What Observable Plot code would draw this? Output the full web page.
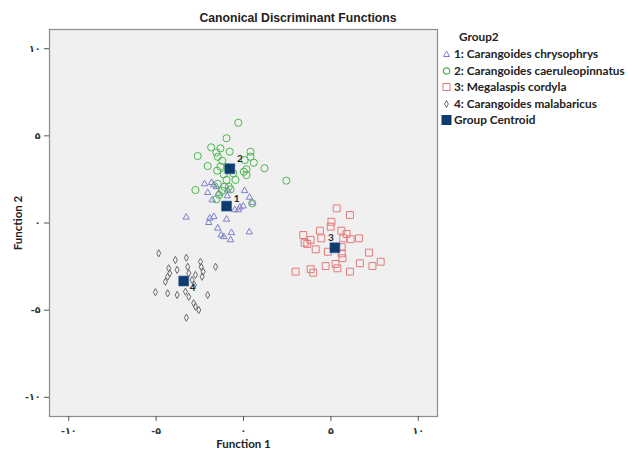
<!DOCTYPE html>
<html>
<head>
<meta charset="utf-8">
<script src="https://cdn.jsdelivr.net/npm/d3@7"></script>
<script src="https://cdn.jsdelivr.net/npm/@observablehq/plot@0.6"></script>
<style>
  body { margin: 0; background: #fff; }
  #wrap { position: relative; width: 628px; height: 450px; }
  #title { position: absolute; left: 0; width: 596px; top: 11px; text-align: center;
    font: bold 12.2px "Liberation Sans", Arial, sans-serif; color: #222; }
  #chart { position: absolute; left: 0; top: 0; }
  #legend { position: absolute; left: 440px; top: 28px; font: bold 11.8px Lato, sans-serif; color: #222; }
  #legend .head { padding-left: 19px; height: 18px; line-height: 18px; }
  #legend .row { height: 16.5px; line-height: 16.5px; display: flex; align-items: center; white-space: nowrap; }
  #legend svg { width: 13px; height: 12px; margin-right: 1px; flex: none; }
  g[aria-label="x-axis tick label"], g[aria-label="y-axis tick label"] { font-family: "DejaVu Sans", sans-serif; font-size: 9.5px; font-weight: bold; fill: #333; }
  g[aria-label="x-axis label"] text, g[aria-label="y-axis label"] text { font: bold 11.5px Lato, sans-serif; fill: #222; }
</style>
</head>
<body>
<div id="wrap">
  <div id="chart"></div>
  <div id="title"></div>
  <div id="legend"></div>
</div>
<script>
// ---- data ----
const chartTitle = "Canonical Discriminant Functions";
const xLabel = "Function 1";
const yLabel = "Function 2";
const legendTitle = "Group2";
const groupNames = ["1: Carangoides chrysophrys", "2: Carangoides caeruleopinnatus", "3: Megalaspis cordyla", "4: Carangoides malabaricus"];
const centroidName = "Group Centroid";
const tickValues = [-10, -5, 0, 5, 10];
const tickLabels = ["-۱۰", "-۵", "۰", "۵", "۱۰"];

const group1 = [[-2.23,2.24],[-1.83,2.31],[-1.70,2.18],[-2.05,1.74],[-1.79,1.32],[-1.42,1.70],[-0.93,1.55],[0.06,1.85],[0.34,1.47],[0.50,1.16],[-0.21,0.90],[-0.02,0.97],[-0.50,0.75],[-0.30,0.75],[-3.28,0.33],[-1.93,0.27],[-1.70,0.36],[-1.99,0.02],[-0.97,0.21],[-1.47,-0.30],[-1.28,-0.69],[-1.13,-0.79],[-0.69,-0.56],[0.33,-0.52],[-0.74,-0.97],[-0.90,1.89],[-1.55,2.08]];
const group2 = [[-0.30,5.75],[-0.97,4.86],[-1.85,4.34],[-1.32,4.28],[-1.55,4.05],[-0.79,4.09],[0.40,4.09],[-2.62,3.84],[-1.22,3.57],[-1.47,3.80],[0.07,3.61],[0.59,3.46],[0.40,3.80],[-2.05,3.27],[-1.32,3.23],[-1.51,3.00],[-0.90,3.19],[0.17,3.08],[0.02,2.94],[1.20,3.14],[-1.13,2.79],[-0.59,2.85],[0.17,2.75],[-0.97,2.47],[-0.46,2.47],[2.45,2.43],[-1.47,2.24],[-0.84,2.08],[-1.22,1.85],[-2.75,1.89],[-0.74,1.93],[-1.39,1.61],[-1.55,1.36],[0.50,1.13],[-1.09,2.08]];
const group3 = [[5.33,0.84],[6.09,0.46],[5.03,0.07],[4.99,-0.21],[4.37,-0.44],[5.60,-0.44],[5.90,-0.63],[3.42,-0.69],[3.84,-0.97],[4.45,-0.88],[5.71,-0.88],[6.13,-0.93],[6.61,-0.88],[3.50,-1.13],[3.65,-1.20],[4.13,-1.51],[4.83,-1.65],[5.62,-1.39],[5.62,-1.74],[7.18,-1.70],[5.66,-2.02],[5.27,-2.35],[4.70,-2.47],[5.37,-2.60],[6.66,-2.31],[7.38,-2.47],[7.85,-2.22],[2.98,-2.79],[3.84,-2.65],[3.99,-2.85],[6.09,-2.79]];
const group4 = [[-4.85,-1.74],[-3.90,-2.12],[-3.27,-1.99],[-3.19,-2.51],[-2.46,-2.22],[-2.42,-2.51],[-1.60,-2.51],[-4.28,-2.60],[-3.80,-2.69],[-4.22,-2.88],[-3.13,-2.88],[-2.31,-2.79],[-2.75,-2.98],[-2.37,-3.08],[-4.34,-3.08],[-4.47,-3.37],[-2.94,-3.27],[-2.81,-3.56],[-5.04,-3.97],[-4.34,-4.03],[-3.80,-4.13],[-3.32,-3.94],[-3.13,-4.23],[-2.05,-4.13],[-2.85,-4.60],[-2.75,-4.80],[-2.56,-4.99],[-3.27,-5.43]];
const centroidX = [-0.97, -0.78, 5.23, -3.42];
const centroidY = [0.97, 3.11, -1.42, -3.33];
const centroidLabels = ["1", "2", "3", "4"];

// ---- styles ----
const colors = ["#7c80cc", "#4cb84c", "#e57a7a", "#6a6a6a"];
const centroidColor = "#0f3a6e";
const narrowDiamond = {
  draw(context, size) {
    const r = Math.sqrt(size / Math.PI);
    context.moveTo(0, -r * 1.1);
    context.lineTo(r * 0.62, 0);
    context.lineTo(0, r * 1.1);
    context.lineTo(-r * 0.62, 0);
    context.closePath();
  }
};
const symbols = ["triangle", "circle", "square", narrowDiamond];
const radii = [2.4, 3.6, 3.9, 3.3];

const groups = [group1, group2, group3, group4];
const centroids = centroidX.map((x, i) => ({x, y: centroidY[i], label: centroidLabels[i]}));
const labelOffsets = [[10, -7], [10, -10], [-4, -10], [9, 7]];

const fmt = d => tickLabels[tickValues.indexOf(d)];

const plot = Plot.plot({
  width: 628,
  height: 450,
  marginLeft: 49,
  marginRight: 191,
  marginTop: 29,
  marginBottom: 34,
  style: {background: "transparent", fontFamily: "Lato, sans-serif", overflow: "visible"},
  x: {domain: [-11.1, 11.1]},
  y: {domain: [-11.1, 11.1]},
  marks: [
    Plot.frame({fill: "#f0f0f0", stroke: "#8c8c8c", strokeWidth: 1.2}),
    Plot.axisX({ticks: tickValues, tickFormat: fmt, tickSize: 5, tickPadding: 6, stroke: "#555",
      label: xLabel, labelAnchor: "center", labelArrow: "none", labelOffset: 31}),
    Plot.axisY({ticks: tickValues, tickFormat: fmt, tickSize: 5, tickPadding: 4, stroke: "#555",
      label: yLabel, labelAnchor: "center", labelArrow: "none", labelOffset: 36}),
    ...groups.map((g, i) => Plot.dot(g, {
      x: d => d[0], y: d => d[1], symbol: symbols[i], r: radii[i],
      stroke: colors[i], strokeWidth: 1, fill: "none"
    })),
    Plot.dot(centroids, {x: "x", y: "y", symbol: "square", r: 5.6, fill: centroidColor, stroke: "#2a5a9a", strokeWidth: 0.6}),
    ...centroids.map((c, i) => Plot.text([c], {
      x: "x", y: "y", text: "label", dx: labelOffsets[i][0], dy: labelOffsets[i][1],
      fontSize: 10, fontWeight: "bold", fill: "#222"
    }))
  ]
});
document.getElementById("chart").appendChild(plot);
document.getElementById("title").textContent = chartTitle;

// legend
const legend = document.getElementById("legend");
const head = document.createElement("div");
head.className = "head";
head.textContent = legendTitle;
legend.appendChild(head);
const symbolSvg = [
  `<polygon points="6.5,3 9.5,8.5 3.5,8.5" fill="none" stroke="${colors[0]}" stroke-width="1"/>`,
  `<circle cx="6.5" cy="6" r="3.2" fill="none" stroke="${colors[1]}" stroke-width="1.2"/>`,
  `<rect x="3" y="2.5" width="7" height="7" fill="none" stroke="${colors[2]}" stroke-width="1"/>`,
  `<polygon points="6.5,2.5 8.3,6 6.5,9.5 4.7,6" fill="none" stroke="${colors[3]}" stroke-width="1"/>`
];
groupNames.forEach((name, i) => {
  const row = document.createElement("div");
  row.className = "row";
  row.innerHTML = `<svg viewBox="0 0 13 12">${symbolSvg[i]}</svg><span>${name}</span>`;
  legend.appendChild(row);
});
const crow = document.createElement("div");
crow.className = "row";
crow.innerHTML = `<svg viewBox="0 0 13 12"><rect x="1.5" y="1" width="10" height="10" fill="${centroidColor}"/></svg><span>${centroidName}</span>`;
legend.appendChild(crow);
</script>
</body>
</html>
